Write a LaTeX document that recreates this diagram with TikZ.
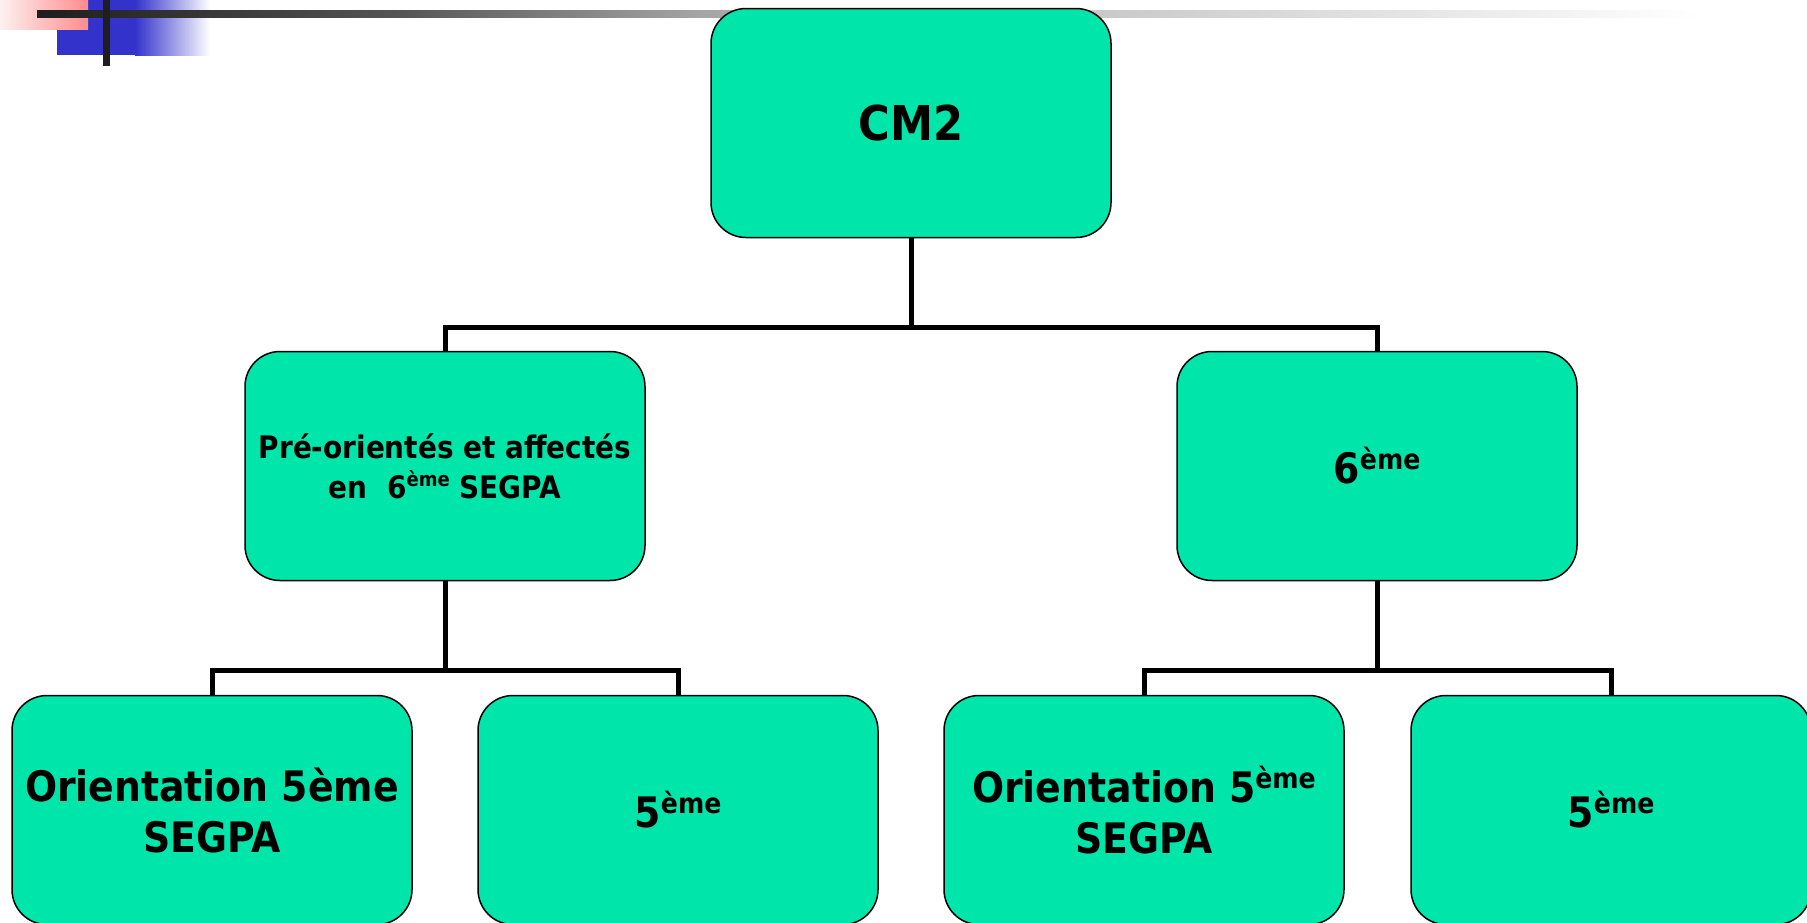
\documentclass[tikz,border=0pt]{standalone}
\usepackage{fontspec}
\setmainfont{DejaVu Sans}[FakeStretch=0.9]
\definecolor{boxfill}{RGB}{0,229,170}
\definecolor{bluesq}{RGB}{51,51,204}
\definecolor{pinkL}{RGB}{253,240,240}
\definecolor{pinkR}{RGB}{255,140,140}
\definecolor{lineA}{RGB}{30,30,30}
\definecolor{lineB}{RGB}{85,85,85}
\definecolor{lineC}{RGB}{165,165,165}
\newcommand\bigT{\fontsize{48}{58}\selectfont}
\newcommand\midT{\fontsize{42}{51}\selectfont}
\newcommand\smlT{\fontsize{31}{40}\selectfont}
\newcommand\expo[2]{\raisebox{#1}{\fontsize{#2}{#2}\selectfont ème}}
\tikzset{
  box/.style={draw=black, line width=1.5pt, fill=boxfill, rounded corners=35pt,
    minimum width=400pt, minimum height=229pt, align=center, inner sep=0pt},
  bigbox/.style={box, font=\bfseries\bigT},
  midbox/.style={box, font=\bfseries\midT},
  smlbox/.style={box, font=\bfseries\smlT},
  conn/.style={draw=black, line width=5pt},
}
\begin{document}
\begin{tikzpicture}[x=1pt,y=-1pt]
\useasboundingbox (0,0) rectangle (1807,922);
% decoration
\fill[bluesq] (57,0) rectangle (135,55);
\shade[left color=bluesq, right color=white] (135,0) rectangle (210,55);
\shade[left color=pinkL, right color=pinkR] (0,0) rectangle (88,29);
\shade[left color=lineA, right color=lineB] (37,10) rectangle (400,17);
\shade[left color=lineB, right color=lineC] (399.5,10) rectangle (700,17);
\shade[left color=lineC, right color=white] (699.5,10) rectangle (1700,17);
\fill[lineA] (103,0) rectangle (110,66);
% nodes
\node[bigbox] (cm2) at (911,123) {CM2};
\node[smlbox] (pre) at (445,466) {Pré-orientés et affectés\\en\ \ 6\expo{12pt}{20} SEGPA};
\node[midbox] (six) at (1377,466) {6\expo{14pt}{28}};
\node[midbox] (oa) at (212,810) {Orientation 5ème\\SEGPA};
\node[midbox] (fa) at (678,810) {5\expo{14pt}{28}};
\node[midbox] (ob) at (1144,810) {Orientation 5\expo{14pt}{28}\\SEGPA};
\node[midbox] (fb) at (1611,810) {5\expo{14pt}{28}};
% junctions
\coordinate (j1) at (911,327);
\coordinate (j2) at (445,670);
\coordinate (j3) at (1377,670);
% connectors
\draw[conn] (cm2.south) -- (j1);
\draw[conn] (pre.north) |- (j1) -| (six.north);
\draw[conn] (pre.south) -- (j2);
\draw[conn] (oa.north) |- (j2) -| (fa.north);
\draw[conn] (six.south) -- (j3);
\draw[conn] (ob.north) |- (j3) -| (fb.north);
\end{tikzpicture}
\end{document}
